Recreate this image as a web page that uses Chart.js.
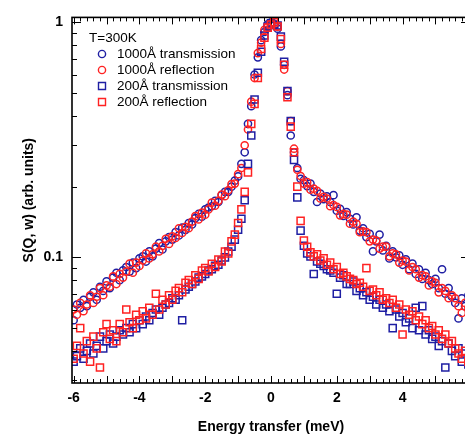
<!DOCTYPE html>
<html>
<head>
<meta charset="utf-8">
<title>S(Q, w) vs energy transfer</title>
<script src="https://cdn.jsdelivr.net/npm/chart.js@4.4.1/dist/chart.umd.min.js"></script>
<style>
  html, body { margin: 0; padding: 0; background: #fff; overflow: hidden; }
  #wrap { width: 480px; height: 437px; }
</style>
</head>
<body>
<div id="wrap"><canvas id="chart" width="480" height="437"></canvas></div>
<script>
// Energy transfer grid (meV), shared by all four series
const energy = [
  -6.0, -5.9, -5.8, -5.7, -5.6, -5.5, -5.4, -5.3, -5.2, -5.1,
  -5.0, -4.9, -4.8, -4.7, -4.6, -4.5, -4.4, -4.3, -4.2, -4.1,
  -4.0, -3.9, -3.8, -3.7, -3.6, -3.5, -3.4, -3.3, -3.2, -3.1,
  -3.0, -2.9, -2.8, -2.7, -2.6, -2.5, -2.4, -2.3, -2.2, -2.1,
  -2.0, -1.9, -1.8, -1.7, -1.6, -1.5, -1.4, -1.3, -1.2, -1.1,
  -1.0, -0.9, -0.8, -0.7, -0.6, -0.5, -0.4, -0.3, -0.2, -0.1,
  0.0, 0.1, 0.2, 0.3, 0.4, 0.5, 0.6, 0.7, 0.8, 0.9,
  1.0, 1.1, 1.2, 1.3, 1.4, 1.5, 1.6, 1.7, 1.8, 1.9,
  2.0, 2.1, 2.2, 2.3, 2.4, 2.5, 2.6, 2.7, 2.8, 2.9,
  3.0, 3.1, 3.2, 3.3, 3.4, 3.5, 3.6, 3.7, 3.8, 3.9,
  4.0, 4.1, 4.2, 4.3, 4.4, 4.5, 4.6, 4.7, 4.8, 4.9,
  5.0, 5.1, 5.2, 5.3, 5.4, 5.5, 5.6, 5.7, 5.8, 5.9,
  6.0
];

// 1000A transmission
const trans1000 = [
  0.054, 0.063, 0.061, 0.066, 0.062, 0.068, 0.071, 0.066, 0.075, 0.072,
  0.079, 0.074, 0.082, 0.086, 0.080, 0.088, 0.091, 0.087, 0.095, 0.090,
  0.099, 0.101, 0.096, 0.106, 0.101, 0.109, 0.115, 0.108, 0.117, 0.122,
  0.119, 0.128, 0.124, 0.134, 0.131, 0.140, 0.138, 0.147, 0.153, 0.149,
  0.160, 0.163, 0.165, 0.174, 0.172, 0.184, 0.190, 0.190, 0.200, 0.212,
  0.221, 0.25, 0.28, 0.37, 0.44, 0.60, 0.71, 0.84, 0.91, 0.98,
  1.0, 0.97, 0.94, 0.79, 0.66, 0.49, 0.33, 0.28, 0.24, 0.216,
  0.213, 0.201, 0.206, 0.190, 0.172, 0.187, 0.177, 0.182, 0.172, 0.184,
  0.158, 0.161, 0.150, 0.156, 0.146, 0.138, 0.148, 0.130, 0.133, 0.122,
  0.126, 0.106, 0.117, 0.125, 0.107, 0.112, 0.099, 0.106, 0.100, 0.102,
  0.093, 0.098, 0.089, 0.094, 0.085, 0.089, 0.081, 0.086, 0.080, 0.077,
  0.081, 0.074, 0.089, 0.070, 0.074, 0.068, 0.064, 0.055, 0.067, 0.062,
  0.069
];

// 1000A reflection
const refl1000 = [
  0.060, 0.057, 0.064, 0.059, 0.063, 0.069, 0.064, 0.068, 0.074, 0.069,
  0.076, 0.075, 0.083, 0.077, 0.085, 0.082, 0.087, 0.094, 0.086, 0.095,
  0.092, 0.097, 0.104, 0.099, 0.103, 0.111, 0.106, 0.112, 0.120, 0.114,
  0.123, 0.121, 0.133, 0.127, 0.135, 0.133, 0.142, 0.150, 0.145, 0.155,
  0.152, 0.160, 0.171, 0.166, 0.174, 0.185, 0.182, 0.193, 0.205, 0.206,
  0.226, 0.24, 0.30, 0.35, 0.46, 0.58, 0.74, 0.82, 0.93, 0.96,
  0.99, 0.98, 0.96, 0.81, 0.63, 0.51, 0.38, 0.29, 0.236, 0.222,
  0.206, 0.209, 0.194, 0.196, 0.192, 0.178, 0.181, 0.178, 0.165, 0.167,
  0.164, 0.151, 0.153, 0.152, 0.139, 0.142, 0.139, 0.128, 0.129, 0.128,
  0.117, 0.119, 0.118, 0.109, 0.111, 0.111, 0.101, 0.104, 0.103, 0.095,
  0.097, 0.096, 0.088, 0.091, 0.089, 0.082, 0.084, 0.083, 0.076, 0.079,
  0.078, 0.071, 0.074, 0.072, 0.067, 0.069, 0.067, 0.062, 0.058, 0.064,
  0.061
];

// 200A transmission
const trans200 = [
  0.036, 0.038, 0.041, 0.037, 0.040, 0.043, 0.039, 0.042, 0.046, 0.041,
  0.044, 0.047, 0.043, 0.046, 0.049, 0.047, 0.050, 0.048, 0.052, 0.050,
  0.054, 0.052, 0.056, 0.054, 0.058, 0.060, 0.057, 0.061, 0.063, 0.064,
  0.067, 0.066, 0.069, 0.054, 0.073, 0.075, 0.077, 0.079, 0.082, 0.083,
  0.085, 0.088, 0.089, 0.092, 0.093, 0.097, 0.100, 0.106, 0.111, 0.119,
  0.131, 0.146, 0.175, 0.25, 0.33, 0.47, 0.61, 0.75, 0.88, 0.96,
  0.99, 0.98, 0.97, 0.87, 0.68, 0.51, 0.38, 0.26, 0.18, 0.13,
  0.112, 0.104, 0.101, 0.085, 0.096, 0.094, 0.092, 0.089, 0.088, 0.086,
  0.070, 0.082, 0.084, 0.077, 0.077, 0.079, 0.072, 0.074, 0.069, 0.071,
  0.066, 0.068, 0.063, 0.066, 0.061, 0.063, 0.059, 0.050, 0.060, 0.056,
  0.058, 0.053, 0.055, 0.050, 0.061, 0.049, 0.062, 0.047, 0.049, 0.045,
  0.046, 0.042, 0.044, 0.034, 0.043, 0.040, 0.038, 0.041, 0.036, 0.039,
  0.035
];

// 200A reflection
const refl200 = [
  0.037, 0.042, 0.050, 0.039, 0.044, 0.036, 0.046, 0.041, 0.034, 0.048,
  0.052, 0.045, 0.049, 0.044, 0.052, 0.048, 0.060, 0.053, 0.050, 0.057,
  0.054, 0.059, 0.055, 0.061, 0.057, 0.070, 0.060, 0.066, 0.063, 0.069,
  0.066, 0.072, 0.074, 0.071, 0.078, 0.080, 0.077, 0.084, 0.081, 0.088,
  0.090, 0.087, 0.094, 0.091, 0.098, 0.096, 0.106, 0.104, 0.117, 0.125,
  0.140, 0.16, 0.19, 0.23, 0.37, 0.45, 0.58, 0.77, 0.86, 0.95,
  0.98, 1.0, 0.96, 0.85, 0.66, 0.48, 0.36, 0.28, 0.20, 0.143,
  0.118, 0.111, 0.105, 0.101, 0.103, 0.097, 0.099, 0.093, 0.095, 0.089,
  0.091, 0.085, 0.086, 0.083, 0.081, 0.080, 0.077, 0.078, 0.075, 0.090,
  0.072, 0.073, 0.069, 0.071, 0.066, 0.067, 0.064, 0.066, 0.061, 0.063,
  0.047, 0.060, 0.057, 0.059, 0.054, 0.056, 0.052, 0.054, 0.050, 0.051,
  0.047, 0.049, 0.045, 0.047, 0.043, 0.044, 0.041, 0.039, 0.037, 0.040,
  0.036
];

const seriesLabels = ['1000Å transmission', '1000Å reflection', '200Å transmission', '200Å reflection'];
const legendTitle = 'T=300K';
const xTickLabels = [-6, -4, -2, 0, 2, 4, 6];
const yTickLabels = [0.1, 1];

const BLUE = '#1f1fa3';
const RED = '#ff2222';
const FONT = '"Liberation Sans", Arial, Helvetica, sans-serif';

function points(ys) {
    return energy.map((x, i) => ({ x: x, y: ys[i] }));
}

function makeSeries(label, ys, color, style, order) {
    return {
        label: label,
        data: points(ys),
        showLine: false,
        pointStyle: style,
        pointRadius: style === 'circle' ? 3.6 : 5,
        pointBorderWidth: 1.5,
        pointBorderColor: color,
        borderColor: color,
        borderWidth: 1.5,
        pointBackgroundColor: 'rgba(0,0,0,0)',
        backgroundColor: 'rgba(0,0,0,0)',
        order: order
    };
}

const datasets = [
    makeSeries(seriesLabels[0], trans1000, BLUE, 'circle', 3),
    makeSeries(seriesLabels[1], refl1000, RED, 'circle', 2),
    makeSeries(seriesLabels[2], trans200, BLUE, 'rect', 1),
    makeSeries(seriesLabels[3], refl200, RED, 'rect', 0)
];

// frame with inward ticks on all four sides
const frameTicks = {
    id: 'frameTicks',
    afterDatasetsDraw(chart) {
        const { ctx, chartArea: { left, right, top, bottom }, scales: { x, y } } = chart;
        ctx.save();
        ctx.strokeStyle = '#000';
        ctx.lineWidth = 1;
        ctx.beginPath();
        for (let k = -30; k <= 30; k++) {
            const px = Math.round(x.getPixelForValue(k / 5)) + 0.5;
            const len = k % 5 === 0 ? 7 : 4;
            ctx.moveTo(px, bottom); ctx.lineTo(px, bottom - len);
            ctx.moveTo(px, top); ctx.lineTo(px, top + len);
        }
        [0.01, 0.1].forEach(dec => {
            for (let m = 1; m <= 9; m++) {
                const v = m * dec;
                if (v < y.min || v > y.max) continue;
                const py = Math.round(y.getPixelForValue(v)) + 0.5;
                const len = m === 1 ? 9 : 5;
                ctx.moveTo(left, py); ctx.lineTo(left + len, py);
                ctx.moveTo(right, py); ctx.lineTo(right - len, py);
            }
        });
        const py1 = Math.round(y.getPixelForValue(1)) + 0.5;
        ctx.moveTo(left, py1); ctx.lineTo(left + 9, py1);
        ctx.moveTo(right, py1); ctx.lineTo(right - 9, py1);
        ctx.stroke();
        ctx.lineWidth = 1.6;
        ctx.strokeRect(left, top, right - left, bottom - top);
        ctx.restore();
    }
};

// legend box inside the plot, top left
const insideLegend = {
    id: 'insideLegend',
    afterDraw(chart) {
        const { ctx, chartArea } = chart;
        const x0 = chartArea.left;
        ctx.save();
        ctx.font = '13.5px ' + FONT;
        ctx.fillStyle = '#000';
        ctx.textBaseline = 'middle';
        ctx.fillText(legendTitle, x0 + 17, 38);
        chart.data.datasets.forEach((ds, i) => {
            const yy = 54 + i * 16;
            const mx = x0 + 30;
            ctx.strokeStyle = ds.borderColor;
            ctx.lineWidth = 1.4;
            ctx.beginPath();
            if (ds.pointStyle === 'circle') {
                ctx.arc(mx, yy, 3.6, 0, Math.PI * 2);
            } else {
                ctx.rect(mx - 3.5, yy - 3.5, 7, 7);
            }
            ctx.stroke();
            ctx.fillText(ds.label, x0 + 45, yy);
        });
        ctx.restore();
    }
};

const tickFont = { family: FONT, size: 14, weight: 'bold' };

const chart = new Chart(document.getElementById('chart'), {
    type: 'scatter',
    data: { datasets: datasets },
    options: {
        responsive: false,
        animation: false,
        layout: { padding: { top: 16, right: 10, left: 0, bottom: 0 } },
        plugins: { legend: { display: false }, tooltip: { enabled: false } },
        scales: {
            x: {
                type: 'linear',
                min: -6.05,
                max: 6.05,
                grid: { display: false, drawTicks: false },
                border: { display: false },
                afterBuildTicks: scale => { scale.ticks = xTickLabels.map(v => ({ value: v })); },
                afterFit: scale => { scale.height = 54; },
                ticks: {
                    font: tickFont, color: '#000', padding: 7,
                    maxRotation: 0, autoSkip: false,
                    callback: v => String(v)
                },
                title: {
                    display: true, text: 'Energy transfer (meV)', color: '#000',
                    font: { family: FONT, size: 14, weight: 'bold' },
                    padding: { top: 0, bottom: 1 }
                }
            },
            y: {
                type: 'logarithmic',
                min: 0.0292,
                max: 1.05,
                grid: { display: false, drawTicks: false },
                border: { display: false },
                afterBuildTicks: scale => { scale.ticks = yTickLabels.map(v => ({ value: v })); },
                afterFit: scale => { scale.width = 72; },
                ticks: {
                    font: tickFont, color: '#000', padding: 9,
                    autoSkip: false,
                    callback: v => String(v)
                },
                title: {
                    display: true, text: 'S(Q, w) (arb. units)', color: '#000',
                    font: { family: FONT, size: 14, weight: 'bold' },
                    padding: { top: 21, bottom: 0 }
                }
            }
        }
    },
    plugins: [frameTicks, insideLegend]
});
</script>
</body>
</html>
